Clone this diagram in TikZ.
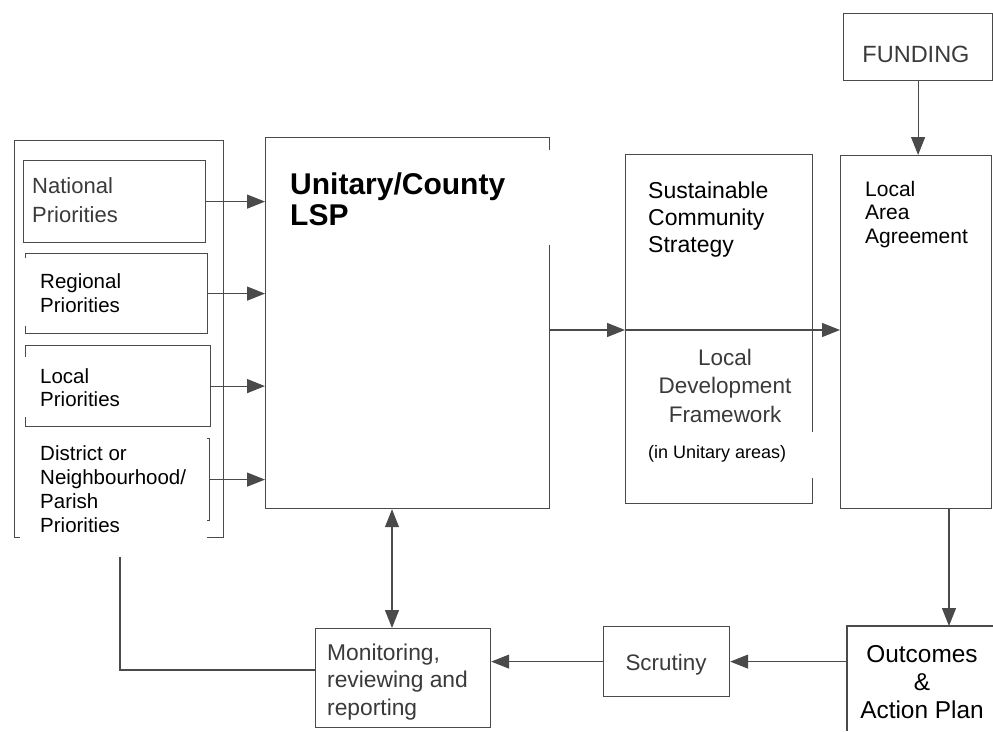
\documentclass[tikz,border=0pt]{standalone}
\usepackage{fontspec}
\setmainfont{Liberation Sans}
\usetikzlibrary{arrows.meta}
\definecolor{ln}{HTML}{4A4A4A}
\definecolor{gtx}{HTML}{3A3A3A}
\newcommand\mytab[2]{\begin{tabular}[t]{@{}#1@{}}#2\end{tabular}}
\tikzset{
  box/.style={draw=ln, line width=1.2pt, inner sep=0pt, anchor=north west},
  arr/.style={draw=ln, line width=1.2pt, -{Triangle[length=18pt,width=14pt]}},
  darr/.style={draw=ln, line width=1.2pt, {Triangle[length=18pt,width=14pt]}-{Triangle[length=18pt,width=14pt]}},
  plain/.style={draw=ln, line width=1.2pt},
  txt/.style={inner sep=0pt, anchor=base west, text=black},
  gtxt/.style={inner sep=0pt, anchor=base west, text=gtx},
  patch/.style={fill=white}
}
\begin{document}
\begin{tikzpicture}[x=1pt,y=-1pt]
\useasboundingbox[fill=white] (0,0) rectangle (993,731);

% ---- boxes ----
\node[box, minimum width=209pt, minimum height=397pt] (outer) at (14,140) {};
\node[box, minimum width=182pt, minimum height=82pt] (nat) at (23,160) {};
\node[box, minimum width=182pt, minimum height=80pt] (reg) at (25,253) {};
\node[box, minimum width=185pt, minimum height=81pt] (loc) at (25,345) {};
\node[box, minimum width=184pt, minimum height=82pt] (dis) at (25,438) {};
\node[box, minimum width=284pt, minimum height=371pt] (lsp) at (265,137) {};
\node[box, minimum width=187pt, minimum height=349pt] (scs) at (625,154) {};
\node[box, minimum width=151pt, minimum height=353pt] (laa) at (840,155) {};
\node[box, minimum width=149pt, minimum height=67pt] (fund) at (843,13) {};
\node[box, minimum width=126pt, minimum height=70pt] (scr) at (603,626) {};
\node[box, minimum width=175pt, minimum height=99pt] (mon) at (315,628) {};
\node[inner sep=0pt, anchor=north west, minimum width=146pt, minimum height=105pt] (out) at (847,626) {};
\draw[plain] (out.north east) -- (out.north west) -- (out.south west);

% ---- helper coordinates ----
\coordinate (div) at (625,330);
\coordinate (xd) at (392,0);
\coordinate (xo) at (949,0);
\coordinate (xf) at (120,0);
\coordinate (yf) at (0,670);

% ---- connectors ----
\draw[arr] (nat.east) -- (nat.east -| lsp.west);
\draw[arr] (reg.east) -- (reg.east -| lsp.west);
\draw[arr] (loc.east) -- (loc.east -| lsp.west);
\draw[arr] (dis.east) -- (dis.east -| lsp.west);
\draw[arr] (lsp.east |- div) -- (scs.west |- div);
\draw[arr] (scs.west |- div) -- (laa.west |- div);
\draw[arr] (fund.south) -- (fund.south |- laa.north);
\draw[arr] (laa.south -| xo) -- (out.north -| xo);
\draw[arr] (out.west |- scr.east) -- (scr.east);
\draw[arr] (scr.west) -- (scr.west -| mon.east);
\draw[darr] (lsp.south -| xd) -- (mon.north -| xd);
\draw[plain] (outer.south -| xf) |- (mon.west |- yf);

% ---- white overlays ----
\fill[patch] (280,150) rectangle (552,245);
\fill[patch] (20,258) rectangle (200,326);
\fill[patch] (20,357) rectangle (192,417);
\fill[patch] (20,432) rectangle (207,557);
\fill[patch] (629,432) rectangle (830,478);

% ---- texts ----
\node[gtxt, font=\fontsize{22}{29}\selectfont] (tnat) at (32,193) {\mytab{l}{National\\Priorities}};
\node[txt, font=\fontsize{20.5}{24}\selectfont] (treg) at (40,288) {\mytab{l}{Regional\\Priorities}};
\node[txt, font=\fontsize{20.5}{23}\selectfont] (tloc) at (40,383) {\mytab{l}{Local\\Priorities}};
\node[txt, font=\fontsize{20.5}{24}\selectfont] (tdis) at (40,460) {\mytab{l}{District or\\Neighbourhood/\\Parish\\Priorities}};
\node[txt, font=\fontsize{30}{31}\selectfont\bfseries] (tlsp) at (290,194) {\mytab{l}{Unitary/County\\LSP}};
\node[txt, font=\fontsize{23}{27}\selectfont] (tscs) at (648,198) {\mytab{l}{Sustainable\\Community\\Strategy}};
\node[gtxt, anchor=base, font=\fontsize{22.5}{28.5}\selectfont] (tldf) at (725,365) {\mytab{c}{Local\\Development\\Framework}};
\node[txt, font=\fontsize{18}{22}\selectfont] (tuni) at (648,458) {(in Unitary areas)};
\node[txt, font=\fontsize{21}{23.5}\selectfont] (tlaa) at (865,196) {\mytab{l}{Local\\Area\\Agreement}};
\node[gtxt, anchor=base, font=\fontsize{23.5}{28}\selectfont] (tfund) at (916,62) {FUNDING};
\node[gtxt, anchor=base, font=\fontsize{22.4}{28}\selectfont] (tscr) at (666,670) {Scrutiny};
\node[txt, anchor=base, font=\fontsize{24.4}{28}\selectfont] (tout) at (922,662) {\mytab{c}{Outcomes\\\&\\Action Plan}};
\node[gtxt, font=\fontsize{22.8}{27.5}\selectfont] (tmon) at (327,660) {\mytab{l}{Monitoring,\\reviewing and\\reporting}};
\end{tikzpicture}
\end{document}
